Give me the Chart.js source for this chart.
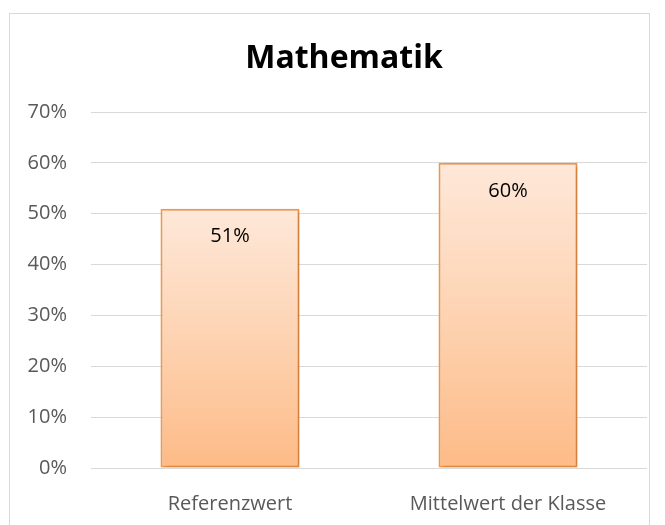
<!DOCTYPE html>
<html>
<head>
<meta charset="utf-8">
<script src="https://cdn.jsdelivr.net/npm/chart.js@4"></script>
<style>
  html, body { margin: 0; padding: 0; background: #fff; }
  #wrap { position: relative; width: 665px; height: 525px; }
  #frame { position: absolute; left: 9px; top: 13px; width: 641px; height: 530px; border: 1px solid #d9d9d9; box-sizing: border-box; }
  canvas { position: absolute; left: 0; top: 0; }
</style>
</head>
<body>
<div id="wrap">
  <div id="frame"></div>
  <canvas id="chart" width="665" height="525"></canvas>
</div>
<script>
// Chart data
const categories = ['Referenzwert', 'Mittelwert der Klasse'];
const values = [51, 60];
const yTicks = [0, 10, 20, 30, 40, 50, 60, 70];
const chartTitle = 'Mathematik';

const fontFamily = '"Open Sans", "Noto Sans", sans-serif';

// Gradient per bar, light at top, orange at bottom
function barGradient(context) {
  const chart = context.chart;
  const yScale = chart.scales.y;
  if (!chart.chartArea || !yScale) return '#fcd3b1';
  const top = yScale.getPixelForValue(context.raw);
  const bottom = yScale.getPixelForValue(0);
  const g = chart.ctx.createLinearGradient(0, top, 0, bottom);
  g.addColorStop(0, '#fee8d9');
  g.addColorStop(0.5, '#fdd3b2');
  g.addColorStop(1, '#fdbb87');
  return g;
}

// Subtle shadow under the bars
const barShadow = {
  id: 'barShadow',
  beforeDatasetsDraw(chart) {
    const ctx = chart.ctx;
    ctx.save();
    ctx.shadowColor = 'rgba(0,0,0,0.18)';
    ctx.shadowBlur = 4;
    ctx.shadowOffsetX = 2;
    ctx.shadowOffsetY = 1;
  },
  afterDatasetsDraw(chart) {
    chart.ctx.restore();
  }
};

// Value labels inside the top of each bar
const valueLabels = {
  id: 'valueLabels',
  afterDatasetsDraw(chart) {
    const ctx = chart.ctx;
    const meta = chart.getDatasetMeta(0);
    ctx.save();
    ctx.font = '20px ' + fontFamily;
    ctx.fillStyle = '#000';
    ctx.textAlign = 'center';
    ctx.textBaseline = 'middle';
    meta.data.forEach((bar, i) => {
      ctx.fillText(values[i] + '%', bar.x, bar.y + 28);
    });
    ctx.restore();
  }
};

// Title sits a bit right of the canvas centre, like the original
const titleText = {
  id: 'titleText',
  afterDraw(chart) {
    const ctx = chart.ctx;
    ctx.save();
    ctx.font = 'bold 32px ' + fontFamily;
    ctx.fillStyle = '#000';
    ctx.textAlign = 'center';
    ctx.textBaseline = 'alphabetic';
    ctx.fillText(chartTitle, 344, 68);
    ctx.restore();
  }
};

new Chart(document.getElementById('chart'), {
  type: 'bar',
  data: {
    labels: categories,
    datasets: [{
      data: values,
      backgroundColor: barGradient,
      borderColor: '#f79646',
      borderWidth: 2,
      borderSkipped: false,
      barPercentage: 0.5,
      categoryPercentage: 1
    }]
  },
  options: {
    responsive: false,
    animation: false,
    layout: { padding: { left: 10, right: 18, top: 112, bottom: 0 } },
    scales: {
      x: {
        grid: { display: false },
        border: { display: false },
        ticks: { color: '#595959', font: { family: fontFamily, size: 20 }, padding: 16 },
        afterFit(scale) { scale.height = 57; }
      },
      y: {
        min: 0,
        max: 70,
        afterBuildTicks(scale) { scale.ticks = yTicks.map(v => ({ value: v })); },
        grid: { color: '#d9d9d9', drawTicks: false, lineWidth: 1 },
        border: { display: false },
        ticks: {
          color: '#595959',
          font: { family: fontFamily, size: 20 },
          padding: 24,
          callback: v => v + '%'
        },
        afterFit(scale) { scale.width = 81; }
      }
    },
    plugins: {
      legend: { display: false },
      tooltip: { enabled: false },
      title: { display: false }
    }
  },
  plugins: [barShadow, valueLabels, titleText]
});
</script>
</body>
</html>
